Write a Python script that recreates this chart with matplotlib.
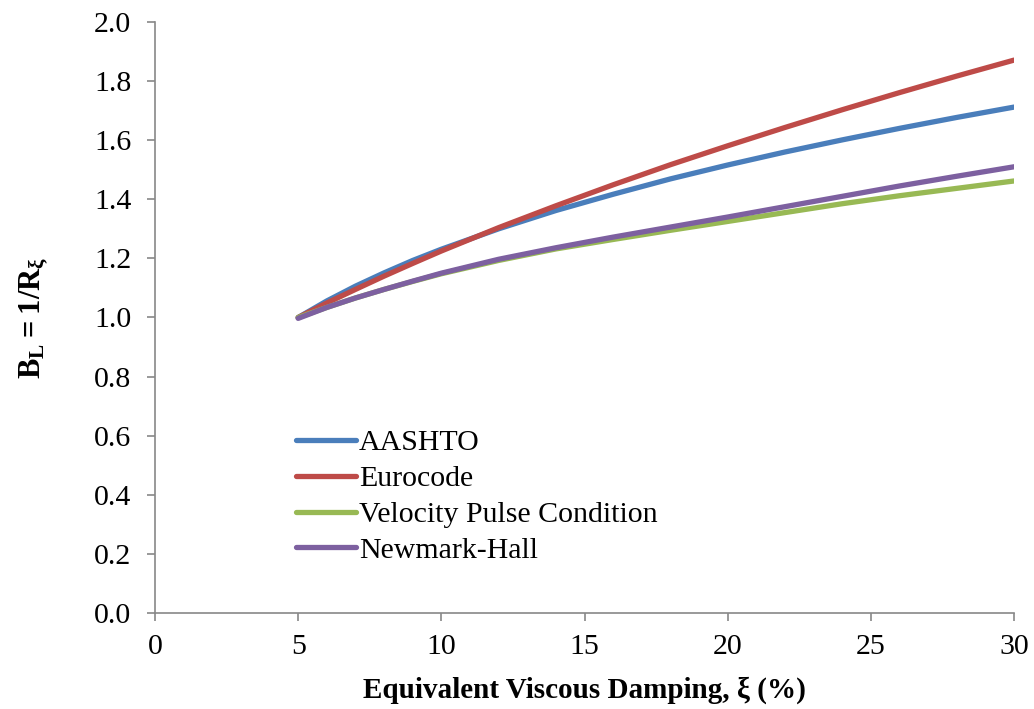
import matplotlib
matplotlib.use('Agg')
import matplotlib.pyplot as plt

# damping (%) and values
damping = [5, 6, 7, 8, 9, 10, 12, 14, 16, 18, 20, 22, 24, 26, 28, 30]
aashto = [1.000, 1.056, 1.106, 1.151, 1.193, 1.231, 1.300, 1.362, 1.417, 1.469,
          1.516, 1.560, 1.601, 1.640, 1.677, 1.712]
eurocode = [1.000, 1.049, 1.095, 1.140, 1.183, 1.225, 1.304, 1.378, 1.449, 1.517,
            1.581, 1.643, 1.703, 1.761, 1.817, 1.871]
velocity = [1.000, 1.034, 1.066, 1.095, 1.122, 1.148, 1.193, 1.232, 1.264, 1.295,
            1.325, 1.355, 1.385, 1.412, 1.437, 1.462]
newmark = [0.997, 1.034, 1.066, 1.095, 1.123, 1.150, 1.197, 1.236, 1.272, 1.306,
           1.340, 1.375, 1.410, 1.445, 1.478, 1.510]

xticks = [0, 5, 10, 15, 20, 25, 30]
yticks = [0.0, 0.2, 0.4, 0.6, 0.8, 1.0, 1.2, 1.4, 1.6, 1.8, 2.0]

plt.rcParams['font.family'] = ['Liberation Serif', 'DejaVu Serif']
plt.rcParams['mathtext.fontset'] = 'custom'
plt.rcParams['mathtext.rm'] = 'Liberation Serif'
plt.rcParams['mathtext.bf'] = 'Liberation Serif:bold'

fig = plt.figure(figsize=(10.34, 7.09), dpi=100)
ax = fig.add_axes([0.1499, 0.1354, 0.8308, 0.8336])

lw = 3.8
ax.plot(damping, aashto, color='#4A7EBB', lw=lw, label='AASHTO', solid_capstyle='round')
ax.plot(damping, eurocode, color='#BE4B48', lw=lw, label='Eurocode', solid_capstyle='round')
ax.plot(damping, velocity, color='#98B954', lw=lw, label='Velocity Pulse Condition', solid_capstyle='round')
ax.plot(damping, newmark, color='#7D60A0', lw=lw, label='Newmark-Hall', solid_capstyle='round')

ax.set_xlim(0, 30)
ax.set_ylim(0, 2.0)
ax.set_xticks(xticks)
ax.set_yticks(yticks)
ax.set_yticklabels(['%.1f' % v for v in yticks])

for s in ['top', 'right']:
    ax.spines[s].set_visible(False)
for s in ['left', 'bottom']:
    ax.spines[s].set_color('#888888')
    ax.spines[s].set_linewidth(1.2)
ax.tick_params(axis='both', direction='out', length=6, width=1.2, color='#888888',
               labelsize=21.5)
ax.tick_params(axis='x', pad=9)
ax.tick_params(axis='y', pad=11)

ax.set_xlabel('Equivalent Viscous Damping, \u03be (%)', fontsize=21, fontweight='bold', labelpad=12)
ax.set_ylabel(r'$\mathbf{B_L = 1/R_\xi}$', fontsize=22, labelpad=32)

leg = ax.legend(loc='lower left', bbox_to_anchor=(0.15, 0.063), frameon=False,
                fontsize=21.5, handlelength=2.0, handletextpad=0.12, labelspacing=0.3,
                borderaxespad=0)

fig.savefig('out.png', dpi=100)
